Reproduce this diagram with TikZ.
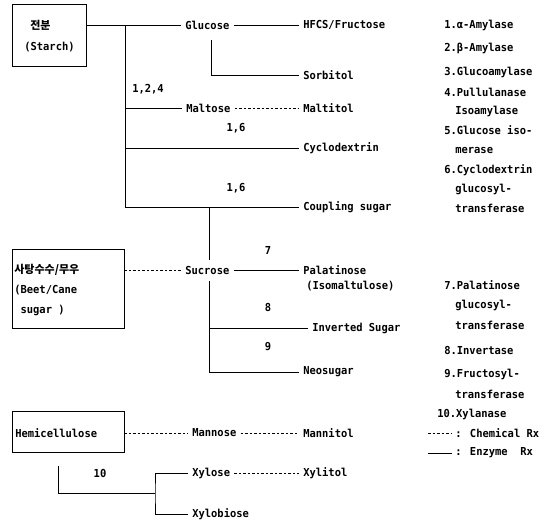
\documentclass[tikz,border=0pt]{standalone}
\usepackage{fontspec}
\setmainfont{DejaVu Sans Mono}[FakeStretch=0.95]
\newfontfamily\kor{Noto Sans CJK KR}
\usetikzlibrary{positioning}

\tikzset{
  word/.style={anchor=west, inner xsep=4pt, inner ysep=0pt},
  tag/.style={inner sep=0pt},
  item/.style={anchor=west, inner sep=0pt},
  srcbox/.style={draw, line width=0.7pt, inner sep=0pt},
  chem/.style={dash pattern=on 2.5pt off 2pt}
}

\begin{document}
\begin{tikzpicture}[x=1pt, y=-1pt, line width=0.6pt,
    font=\fontsize{11}{13}\selectfont\bfseries]
  \useasboundingbox (0,0) rectangle (545,522);

  % --- Starch ---
  \node[srcbox, minimum width=74pt, minimum height=62pt] (starch) at (49,35) {};
  \node[tag, anchor=west] (starchko) at (30,25) {\kor\bfseries 전분};
  \node[tag, anchor=west] (starchen) at (24,47) {(Starch)};

  \node[word] (glucose)   at (181,25)  {Glucose};
  \node[word] (hfcs)      at (299,25)  {HFCS/Fructose};
  \node[word] (sorbitol)  at (299,75)  {Sorbitol};
  \node[word] (maltose)   at (182,108) {Maltose};
  \node[word] (maltitol)  at (299,108) {Maltitol};
  \node[word] (cyclo)     at (299,148) {Cyclodextrin};
  \node[word] (coupling)  at (299,207) {Coupling sugar};

  \coordinate (trunk) at (125,25);
  \coordinate (sorb)  at (211,40);
  \draw (starch.east |- glucose) -- (glucose.west);
  \draw (glucose.east) -- (hfcs.west);
  \draw (sorb) -- (sorb |- sorbitol) -- (sorbitol.west);
  \draw (trunk) -- (trunk |- coupling) -- (coupling.west);
  \draw (trunk |- maltose) -- (maltose.west);
  \draw[chem] (maltose.east) -- (maltitol.west);
  \draw (trunk |- cyclo) -- (cyclo.west);

  \node[tag] (e124) at (148,89)  {1,2,4};
  \node[tag] (e16a) at (236,128) {1,6};
  \node[tag] (e16b) at (236,188) {1,6};

  % --- Sucrose ---
  \node[srcbox, minimum width=112pt, minimum height=79pt] (beet) at (68,289) {};
  \node[tag, anchor=west] (beetko) at (14,270) {\kor\bfseries 사탕수수/무우};
  \node[tag, anchor=west] (beeten) at (14,290) {(Beet/Cane};
  \node[tag, anchor=west] (beetsg) at (14,310) {\ sugar )};

  \node[word] (sucrose)  at (181,270) {Sucrose};
  \node[word] (palat)    at (299,270) {Palatinose};
  \node[tag, anchor=west] (isomalt) at (306,286) {(Isomaltulose)};
  \node[word] (inverted) at (308,328) {Inverted Sugar};
  \node[word] (neo)      at (299,372) {Neosugar};

  \coordinate (suc) at (209,207);
  \draw[chem] (beet.east |- sucrose) -- (sucrose.west);
  \draw (sucrose.east) -- (palat.west);
  \draw (suc) -- ([yshift=6pt]sucrose.north -| suc);
  \draw ([yshift=-7pt]sucrose.south -| suc) -- (suc |- neo) -- (neo.west);
  \draw (suc |- inverted) -- (inverted.west);

  \node[tag] (e7) at (268,250) {7};
  \node[tag] (e8) at (268,307) {8};
  \node[tag] (e9) at (268,347) {9};

  % --- Hemicellulose ---
  \node[srcbox, minimum width=112pt, minimum height=41pt] (hemi) at (68,432) {};
  \node[tag, anchor=west] (hemitxt) at (15,433) {Hemicellulose};
  \node[word] (mannose)   at (188,433) {Mannose};
  \node[word] (mannitol)  at (299,433) {Mannitol};
  \node[word] (xylose)    at (188,473) {Xylose};
  \node[word] (xylitol)   at (299,473) {Xylitol};
  \node[word] (xylobiose) at (188,514) {Xylobiose};

  \coordinate (hdrop) at (58,466);
  \coordinate (xfork) at (155,493);
  \draw[chem] (hemi.east |- mannose) -- (mannose.west);
  \draw[chem] (mannose.east) -- (mannitol.west);
  \draw (hdrop) -- (hdrop |- xfork) -- (xfork);
  \draw (xylose.west) -| (xfork) |- (xylobiose.west);
  \draw[chem] (xylose.east) -- (xylitol.west);

  \node[tag] (e10) at (100,473) {10};

  % --- enzymes ---
  \node[item] (enz1)  at (444,25)  {1.α-Amylase};
  \node[item] (enz2)  at (444,48)  {2.β-Amylase};
  \node[item] (enz3)  at (444,72)  {3.Glucoamylase};
  \node[item] (enz4)  at (444,92)  {4.Pullulanase};
  \node[item] (enz4b) at (455,111) {Isoamylase};
  \node[item] (enz5)  at (444,130) {5.Glucose iso-};
  \node[item] (enz5b) at (455,150) {merase};
  \node[item] (enz6)  at (444,170) {6.Cyclodextrin};
  \node[item] (enz6b) at (455,189) {glucosyl-};
  \node[item] (enz6c) at (455,208) {transferase};
  \node[item] (enz7)  at (444,285) {7.Palatinose};
  \node[item] (enz7b) at (455,305) {glucosyl-};
  \node[item] (enz7c) at (455,325) {transferase};
  \node[item] (enz8)  at (444,350) {8.Invertase};
  \node[item] (enz9)  at (444,374) {9.Fructosyl-};
  \node[item] (enz9b) at (455,394) {transferase};
  \node[item] (enz10) at (437,414) {10.Xylanase};

  \node[item] (chemkey) at (455,433) {: Chemical Rx};
  \node[item] (enzkey)  at (455,453) {: Enzyme\ \ Rx};
  \coordinate (chemend) at (428,433);
  \coordinate (enzend)  at (428,453);
  \draw[chem] (chemend) -- ([xshift=-3pt]chemkey.west);
  \draw (enzend) -- ([xshift=-3pt]enzkey.west);
\end{tikzpicture}
\end{document}
